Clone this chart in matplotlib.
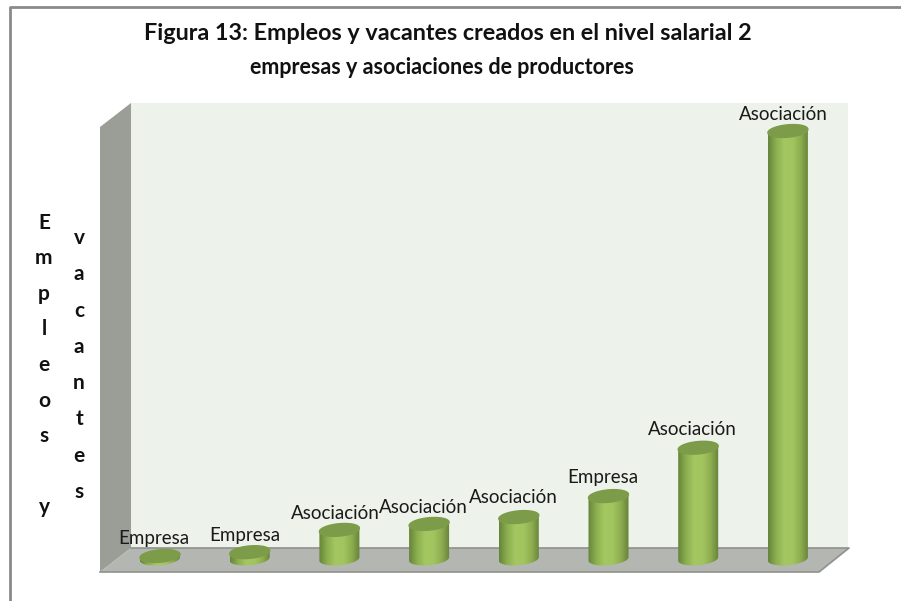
import numpy as np
import matplotlib
matplotlib.use("Agg")
import matplotlib.pyplot as plt
from matplotlib.patches import Polygon, PathPatch
from matplotlib.path import Path
from matplotlib.colors import LinearSegmentedColormap

# values (no axis numbers in the original)
tipos = ["Empresa", "Empresa", "Asociación", "Asociación", "Asociación",
         "Empresa", "Asociación", "Asociación"]
valores = [0.7, 1.6, 6.8, 8.2, 9.8, 14.7, 26, 100]

titulo_1 = "Figura 13: Empleos y vacantes creados en el nivel salarial 2"
titulo_2 = "empresas y asociaciones de productores"
ylabel_1 = "E\nm\np\nl\ne\no\ns\n\ny"
ylabel_2 = "v\na\nc\na\nn\nt\ne\ns"

plt.rcParams['font.family'] = ['Lato', 'DejaVu Sans']
W, H = 901, 601
fig = plt.figure(figsize=(W / 100, H / 100), dpi=100, facecolor='white')

# background in pixels: frame, walls, floor
bg = fig.add_axes([0, 0, 1, 1])
bg.set_xlim(0, W)
bg.set_ylim(H, 0)
bg.axis('off')
bg.plot([10, 10, 901], [601, 7, 7], color='#8a8a8a', lw=2)
bg.add_patch(Polygon([(131, 103), (848, 103), (848, 548), (131, 548)], fc='#edf3ea', ec='none'))
bg.add_patch(Polygon([(100, 127), (131, 103), (131, 548), (100, 572)], fc='#9b9d97', ec='none'))
bg.add_patch(Polygon([(131, 548), (849, 548), (819, 572), (100, 572)], fc='#b4b6b1', ec='none'))
bg.plot([131, 849, 819, 100], [548, 548, 572, 572], color='#8f918c', lw=1.2)

bg.text(448, 33.5, titulo_1, ha='center', va='center', fontsize=16.8, fontweight='bold', color='#111111')
bg.text(442, 67, titulo_2, ha='center', va='center', fontsize=15.5, fontweight='bold', color='#111111')
bg.text(44, 365, ylabel_1, ha='center', va='center', fontsize=15, fontweight='bold',
        color='#111111', linespacing=1.975)
bg.text(79, 365, ylabel_2, ha='center', va='center', fontsize=15, fontweight='bold',
        color='#111111', linespacing=2.015)

# chart axes: one unit in y = 4.28 px, one category = 89.7 px
ax = fig.add_axes([115.15 / W, (H - 559) / H, 717.6 / W, 428 / H])
ax.set_xlim(-0.5, 7.5)
ax.set_ylim(0, 100)
ax.axis('off')

cmap = LinearSegmentedColormap.from_list(
    'cil', ['#66853a', '#8db050', '#a4c762', '#a2c560', '#8fae50', '#66833a'])
grad = np.linspace(0, 1, 64).reshape(1, -1)

a = 0.223   # half width, category units
b = 1.45    # half height of the ellipse, value units
tilt = 0.4  # right side sits higher

def arco(cx, cy, t):
    return cx + a * np.cos(t), cy + b * np.sin(t) + tilt * np.cos(t)

for i, v in enumerate(valores):
    t_low = np.linspace(np.pi, 2 * np.pi, 40)
    x0, y0 = arco(i, 0, t_low)
    x1, y1 = arco(i, v, t_low[::-1])
    lado = Path(np.column_stack([np.r_[x0, x1], np.r_[y0, y1]]))
    clip = PathPatch(lado, transform=ax.transData, fc='none', ec='none')
    ax.add_patch(clip)
    im = ax.imshow(grad, cmap=cmap, extent=(i - a, i + a, -3, v + 3), aspect='auto', zorder=3)
    im.set_clip_path(clip)
    im.set_clip_box(fig.bbox)
    t = np.linspace(0, 2 * np.pi, 80)
    xt, yt = arco(i, v, t)
    ax.fill(xt, yt, color='#7d9c49', zorder=4, clip_on=False)

ax.set_xlim(-0.5, 7.5)
ax.set_ylim(0, 100)

# label offsets in points, relative to each bar top
desp_x = [-4.3, -3.6, -3, -4.3, -3.6, -4.3, -4.3, -3.6]
desp_y = [12.5, 11.8, 12, 12, 14, 13.4, 13, 11.8]
for i, (txt, v) in enumerate(zip(tipos, valores)):
    ax.annotate(txt, (i, v), xytext=(desp_x[i], desp_y[i]), textcoords='offset points',
                ha='center', va='center', fontsize=13.5, color='#1a1a1a',
                annotation_clip=False, zorder=5)

fig.savefig('out.png', dpi=100)
